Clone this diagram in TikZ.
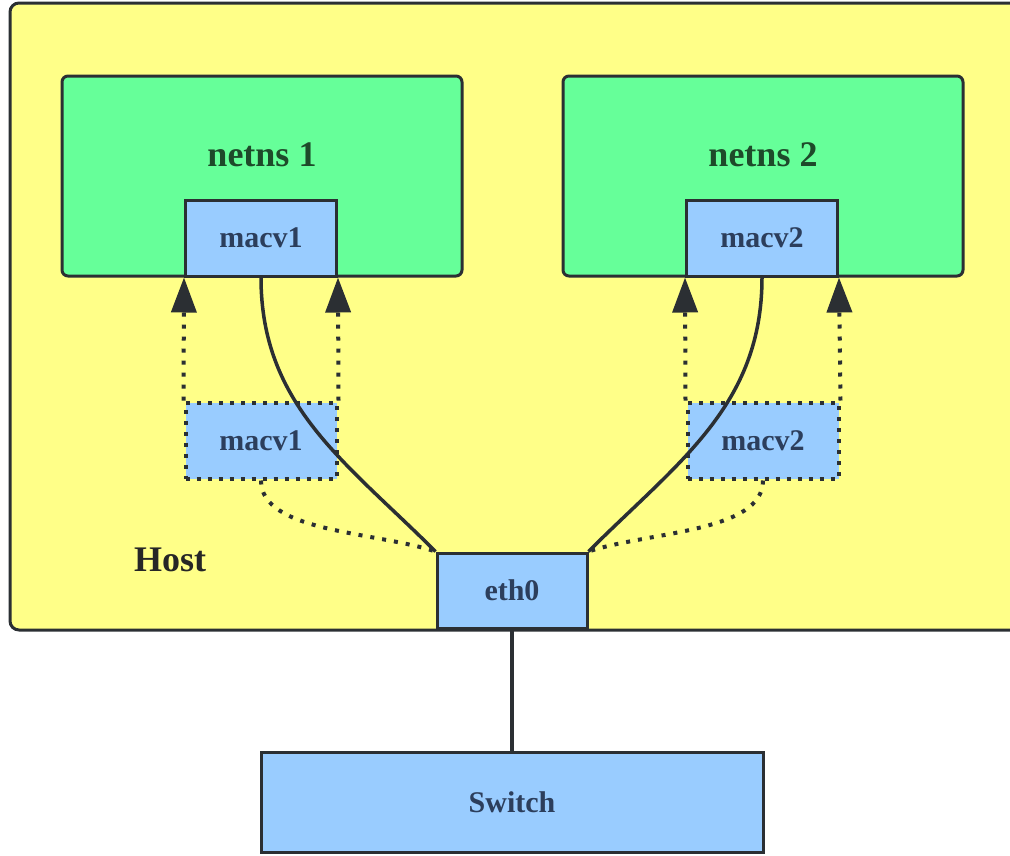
\documentclass[tikz,border=0pt]{standalone}
\usepackage{fontspec}
\setmainfont{Liberation Serif}
\usetikzlibrary{arrows.meta}
\definecolor{hostfill}{HTML}{FFFF88}
\definecolor{nsfill}{HTML}{66FF99}
\definecolor{ifill}{HTML}{99CCFF}
\definecolor{edge}{HTML}{2B2F33}
\definecolor{itext}{HTML}{2C3E5C}
\definecolor{nstext}{HTML}{1E4A2A}
\tikzset{
  nsbox/.style={draw=edge,fill=nsfill,line width=3pt,rounded corners=6pt,minimum width=400pt,minimum height=200pt,inner sep=0pt},
  ifbox/.style={draw=edge,fill=ifill,line width=3pt,minimum width=151pt,minimum height=76pt,inner sep=0pt,text=itext,font=\fontsize{30}{32}\selectfont\bfseries},
  dotbox/.style={ifbox,dash pattern=on 4pt off 7pt,line width=4pt},
  bigtxt/.style={font=\fontsize{36}{38}\selectfont\bfseries,inner sep=0pt},
  wire/.style={draw=edge,line width=3.5pt},
  dotwire/.style={draw=edge,line width=4pt,dash pattern=on 4pt off 8pt},
  tip/.style={-{Triangle[length=35pt,width=25pt]}}
}
\begin{document}
\begin{tikzpicture}[x=1pt,y=-1pt]
\useasboundingbox (0,0) rectangle (1010,855);
\clip (0,0) rectangle (1010,855);
\draw[draw=edge,fill=hostfill,line width=3pt,rounded corners=9pt] (10,3) rectangle (1040,630);
\node[nsbox] (ns1) at (262,176) {};
\node[nsbox] (ns2) at (763,176) {};
\node[bigtxt,text=nstext] (t1) at (262,155) {netns 1};
\node[bigtxt,text=nstext] (t2) at (763,155) {netns 2};
\node[bigtxt,text=black!85] (host) at (170,560) {Host};
\node[ifbox] (m1) at (261,238) {macv1};
\node[ifbox] (m2) at (762,238) {macv2};
\node[dotbox] (d1) at (261,440.5) {macv1};
\node[dotbox] (d2) at (763,440.5) {macv2};
\node[ifbox,minimum width=150pt,minimum height=75pt] (eth) at (512,590.5) {eth0};
\node[ifbox,minimum width=502pt,minimum height=100pt] (sw) at (512,802) {Switch};
% dotted arrows
\draw[dotwire,tip] (d1.north west) -- (m1.south west);
\draw[dotwire,tip] (d1.north east) -- (m1.south east);
\draw[dotwire,tip] (d2.north west) -- (m2.south west);
\draw[dotwire,tip] (d2.north east) -- (m2.south east);
% dotted curves
\draw[dotwire] (d1.south) .. controls +(0,52) and +(-60,-20) .. (eth.north west);
\draw[dotwire] (d2.south) .. controls +(0,52) and +(60,-20) .. (eth.north east);
% solid curves
\draw[wire] (m1.south) .. controls +(0,128) and +(-90,-90) .. (eth.north west);
\draw[wire] (m2.south) .. controls +(0,128) and +(90,-90) .. (eth.north east);
\node[ifbox,minimum width=150pt,minimum height=75pt] at (eth) {eth0};
\draw[wire] (eth.south) -- (sw.north);
\end{tikzpicture}
\end{document}
